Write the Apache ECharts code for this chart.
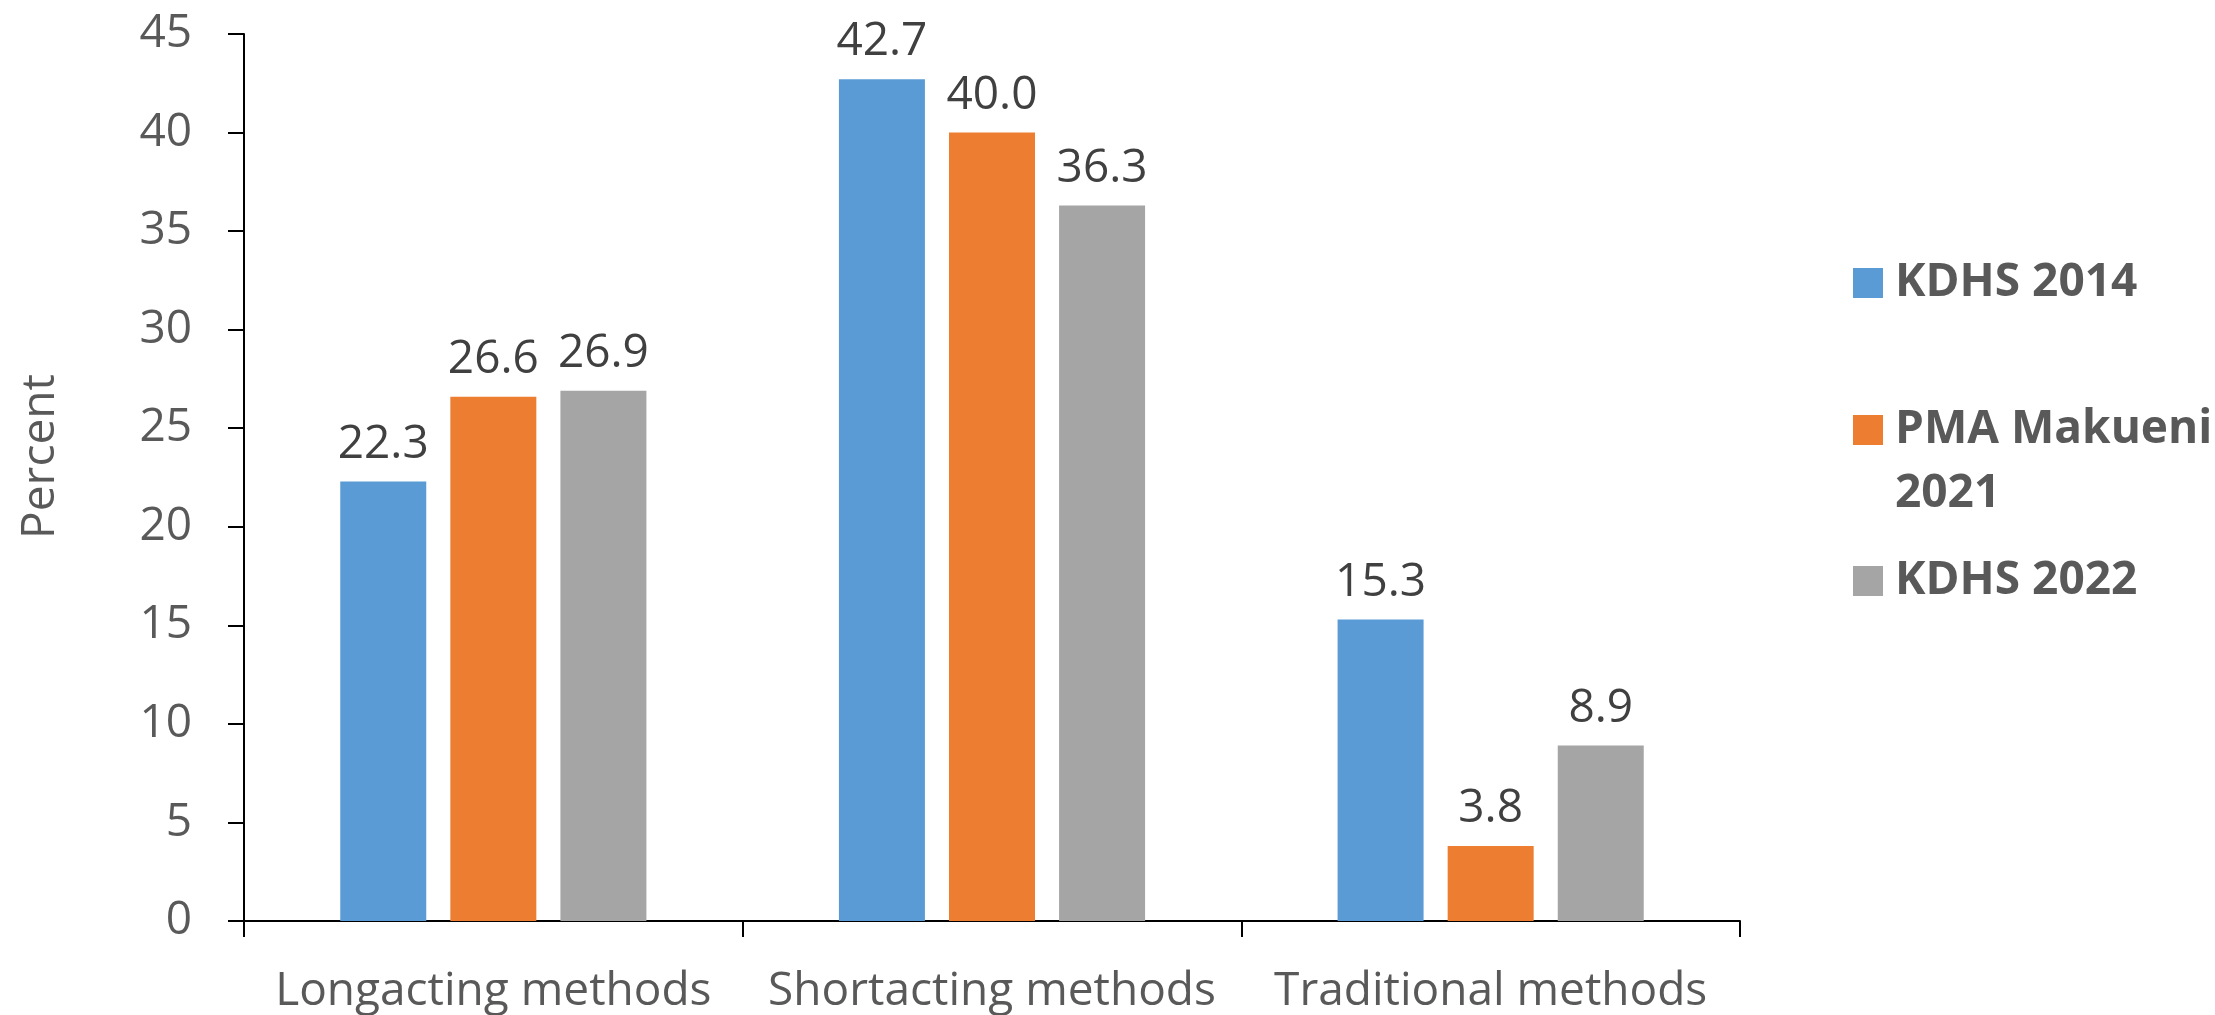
<!DOCTYPE html>
<html>
<head>
<meta charset="utf-8">
<script src="https://cdn.jsdelivr.net/npm/echarts@6/dist/echarts.min.js"></script>
<style>
  html, body { margin: 0; padding: 0; background: #ffffff; }
  #chart { width: 2215px; height: 1015px; }
</style>
</head>
<body>
<div id="chart"></div>
<script>
const categories = ['Longacting methods', 'Shortacting methods', 'Traditional methods'];
const seriesNames = ['KDHS 2014', 'PMA Makueni 2021', 'KDHS 2022'];
const kdhs2014 = [22.3, 42.7, 15.3];
const pmaMakueni2021 = [26.6, 40.0, 3.8];
const kdhs2022 = [26.9, 36.3, 8.9];
const yTicks = { min: 0, max: 45, interval: 5 };
const yName = 'Percent';

const colors = ['#5B9BD5', '#ED7D31', '#A5A5A5'];
const FONT = 'Open Sans';

const chart = echarts.init(document.getElementById('chart'), null, { renderer: 'canvas' });

function barSeries(name, data, color) {
  return {
    name: name,
    type: 'bar',
    data: data,
    barWidth: 86,
    barGap: '28%',
    itemStyle: { color: color },
    label: {
      show: true,
      position: 'top',
      distance: 14,
      color: '#404040',
      fontFamily: FONT,
      fontSize: 46,
      formatter: p => p.value.toFixed(1)
    }
  };
}

function legendFor(name, top, extraText) {
  return {
    orient: 'vertical',
    left: 1853,
    top: top,
    padding: 0,
    itemWidth: 30,
    itemHeight: 30,
    icon: 'rect',
    selectedMode: false,
    data: [name],
    textStyle: Object.assign({
      fontFamily: FONT,
      fontWeight: 'bold',
      fontSize: 46,
      color: '#595959',
      lineHeight: 30,
      padding: [0, 0, 0, 7]
    }, extraText || {})
  };
}

const option = {
  backgroundColor: '#ffffff',
  animation: false,
  grid: { left: 244, right: 475, top: 34, bottom: 93, containLabel: false },
  legend: [
    legendFor(seriesNames[0], 260),
    Object.assign(legendFor(seriesNames[1], 334, { lineHeight: 64 }), {
      // first (empty) line keeps "PMA Makueni" level with the swatch, "2021" wraps below
      formatter: () => '\nPMA Makueni\n2021'
    }),
    legendFor(seriesNames[2], 558)
  ],
  xAxis: {
    type: 'category',
    data: categories,
    axisLine: { show: true, lineStyle: { color: '#000000', width: 2 } },
    axisTick: { show: true, length: 16, lineStyle: { color: '#000000', width: 2 } },
    axisLabel: { color: '#595959', fontFamily: FONT, fontSize: 46, margin: 48, interval: 0, hideOverlap: false },
    splitLine: { show: false }
  },
  yAxis: {
    type: 'value',
    min: yTicks.min,
    max: yTicks.max,
    interval: yTicks.interval,
    name: yName,
    nameLocation: 'middle',
    nameGap: 180,
    nameRotate: 90,
    nameTextStyle: { color: '#595959', fontFamily: FONT, fontSize: 46, padding: [0, 0, 0, 42] },
    axisLine: { show: true, lineStyle: { color: '#000000', width: 2 } },
    axisTick: { show: true, length: 16, lineStyle: { color: '#000000', width: 2 } },
    axisLabel: { color: '#595959', fontFamily: FONT, fontSize: 46, margin: 52 },
    splitLine: { show: false }
  },
  series: [
    barSeries(seriesNames[0], kdhs2014, colors[0]),
    barSeries(seriesNames[1], pmaMakueni2021, colors[1]),
    barSeries(seriesNames[2], kdhs2022, colors[2])
  ]
};

chart.setOption(option);
</script>
</body>
</html>
